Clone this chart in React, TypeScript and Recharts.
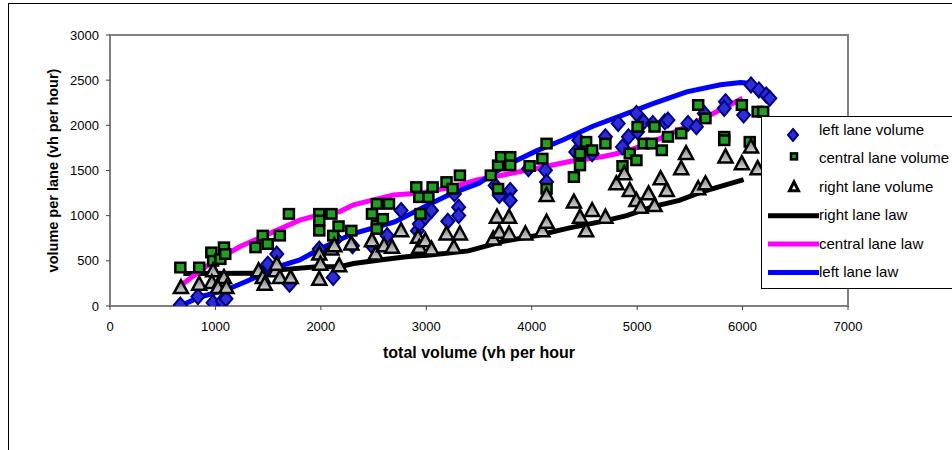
import React from 'react';
import { ScatterChart, Scatter, XAxis, YAxis, ReferenceArea, Legend } from 'recharts';

const FONT = '"Liberation Sans", Arial, sans-serif';

const xTicks = [0, 1000, 2000, 3000, 4000, 5000, 6000, 7000];
const yTicks = [0, 500, 1000, 1500, 2000, 2500, 3000];

// [total volume, lane volume]
const leftLaneVolume = [
  [667, 10], [834, 104], [978, 37], [1064, 56], [1100, 80], [1582, 575], [1438, 352], [1703, 241],
  [1496, 463], [1985, 630], [2117, 315], [2146, 742], [2300, 667], [2485, 667], [2629, 779],
  [2761, 1057], [2916, 834], [2934, 908], [2991, 983], [3049, 1057], [3204, 938], [3267, 1242],
  [3307, 1094], [3307, 1001], [3653, 1335], [3693, 1224], [3796, 1279], [3796, 1168], [3969, 1520],
  [4130, 1502], [4141, 1372], [4418, 1706], [4447, 1835], [4573, 1687], [4699, 1873], [4820, 2021],
  [4861, 1761], [4918, 1873], [4993, 2132], [5004, 1928], [5062, 2039], [5148, 2021], [5263, 2039],
  [5292, 2058], [5482, 2021], [5562, 1984], [5637, 2132], [5838, 2262], [5826, 2188], [6010, 2114],
  [6080, 2447], [6155, 2392], [6224, 2336], [6258, 2299],
];

const centralLaneVolume = [
  [667, 426], [846, 426], [961, 593], [978, 500], [1047, 519], [1081, 649], [1093, 575], [1380, 649],
  [1449, 779], [1496, 686], [1611, 779], [1697, 1020], [1985, 1020], [1985, 946], [1985, 834],
  [2100, 1020], [2117, 779], [2168, 883], [2289, 834], [2485, 1020], [2531, 1131], [2531, 890],
  [2588, 964], [2646, 1131], [2531, 853], [2905, 1316], [2934, 1205], [2945, 1020], [3020, 1205],
  [3060, 1316], [3192, 1372], [3250, 1298], [3319, 1446], [3612, 1446], [3681, 1557], [3710, 1650],
  [3681, 1298], [3796, 1650], [3796, 1557], [3980, 1550], [4101, 1631], [4141, 1798], [4141, 1298],
  [4400, 1428], [4458, 1687], [4458, 1557], [4516, 1817], [4573, 1724], [4699, 1798], [4861, 1550],
  [4930, 1687], [4993, 1613], [5004, 1984], [5062, 1798], [5137, 1798], [5165, 1984], [5234, 1724],
  [5292, 1873], [5418, 1910], [5579, 2225], [5648, 2077], [5826, 1873], [5826, 1835], [5993, 2225],
  [6068, 1817], [6143, 2151], [6195, 2151],
];

const rightLaneVolume = [
  [673, 204], [846, 241], [978, 389], [966, 260], [1047, 278], [1081, 315], [1024, 204], [1104, 204],
  [1409, 389], [1449, 315], [1467, 241], [1570, 389], [1611, 315], [1582, 463], [1714, 315],
  [1985, 297], [1985, 575], [1996, 463], [2100, 630], [2128, 667], [2174, 445], [2289, 686],
  [2485, 723], [2519, 575], [2600, 667], [2675, 649], [2761, 834], [2922, 760], [2934, 649],
  [2991, 723], [3049, 630], [3192, 797], [3261, 649], [3319, 797], [3670, 983], [3785, 983],
  [3635, 742], [3693, 816], [3785, 797], [3940, 797], [4101, 834], [4141, 927], [4141, 1224],
  [4400, 1150], [4458, 983], [4516, 834], [4573, 1057], [4699, 983], [4803, 1353], [4878, 1465],
  [4930, 1279], [4993, 1168], [5033, 1094], [5108, 1242], [5165, 1112], [5223, 1409], [5281, 1279],
  [5418, 1520], [5464, 1687], [5579, 1298], [5648, 1353], [5838, 1650], [5993, 1576], [6080, 1761],
  [6143, 1520],
];

const rightLaneLaw = [
  [696, 360], [1390, 362], [1610, 400], [1960, 435], [2180, 435], [2310, 470], [2560, 510],
  [2810, 545], [3035, 565], [3400, 610], [3730, 715], [4050, 780], [4360, 865], [4680, 940],
  [4900, 1000], [5150, 1100], [5400, 1170], [5630, 1270], [6010, 1400],
];

const centralLaneLaw = [
  [696, 250], [950, 470], [1230, 655], [1490, 790], [1800, 950], [1990, 1010], [2180, 1045],
  [2310, 1120], [2690, 1230], [2940, 1250], [3260, 1320], [3480, 1395], [3730, 1450], [4050, 1525],
  [4360, 1600], [4680, 1655], [4900, 1710], [5220, 1855], [5630, 2075], [6000, 2300],
];

const leftLaneLaw = [
  [664, 0], [854, 100], [1107, 180], [1330, 290], [1580, 430], [1800, 510], [1990, 630],
  [2300, 800], [2700, 930], [3035, 1130], [3250, 1250], [3500, 1360], [3730, 1540], [4050, 1720],
  [4300, 1840], [4580, 1990], [4900, 2130], [5150, 2240], [5470, 2370], [5790, 2450], [5980, 2475],
  [6040, 2470],
];

const toPoints = (arr: number[][]) => arr.map(([x, y]) => ({ x, y }));

const Diamond = (props: any) => {
  const { cx, cy } = props;
  if (cx == null || cy == null) return <g />;
  return (
    <polygon
      points={`${cx},${cy - 7.5} ${cx + 6.5},${cy} ${cx},${cy + 7.5} ${cx - 6.5},${cy}`}
      fill="#2d2dd8"
      stroke="#000084"
      strokeWidth={2}
    />
  );
};

const Square = (props: any) => {
  const { cx, cy } = props;
  if (cx == null || cy == null) return <g />;
  return <rect x={cx - 5} y={cy - 4.75} width={10} height={9.5} fill="#21a121" stroke="#000" strokeWidth={2.5} />;
};

const Triangle = (props: any) => {
  const { cx, cy } = props;
  if (cx == null || cy == null) return <g />;
  return (
    <polygon
      points={`${cx},${cy - 7.5} ${cx + 7},${cy + 5.5} ${cx - 7},${cy + 5.5}`}
      fill="url(#triFill)"
      stroke="#000"
      strokeWidth={2.5}
    />
  );
};

const NoDot = () => <g />;

const legendRows = [
  { label: 'left lane volume', kind: 'diamond' },
  { label: 'central lane volume', kind: 'square' },
  { label: 'right lane volume', kind: 'triangle' },
  { label: 'right lane law', kind: 'line', color: '#000000' },
  { label: 'central lane law', kind: 'line', color: '#ff00ff' },
  { label: 'left lane law', kind: 'line', color: '#0000ff' },
];

const LegendBox = () => (
  <svg width={200} height={174} style={{ display: 'block' }}>
    <rect x={0.5} y={0.5} width={199} height={172} fill="#fff" stroke="#000" strokeWidth={1} />
    {legendRows.map((row, i) => {
      const base = 19 + i * 28.4;
      return (
        <g key={row.label}>
          {row.kind === 'diamond' && (
            <polygon
              points={`32,${base - 6} 37,${base} 32,${base + 6} 27,${base}`}
              fill="#2d2dd8"
              stroke="#000084"
              strokeWidth={2}
            />
          )}
          {row.kind === 'square' && (
            <rect x={30} y={base - 10} width={6} height={6} fill="#21a121" stroke="#000" strokeWidth={2.5} />
          )}
          {row.kind === 'triangle' && (
            <polygon
              points={`33,${base - 10} 37.5,${base - 1} 28.5,${base - 1}`}
              fill="#fff"
              stroke="#000"
              strokeWidth={3}
            />
          )}
          {row.kind === 'line' && (
            <line x1={7} y1={base - 4.5} x2={58} y2={base - 4.5} stroke={row.color} strokeWidth={5} />
          )}
          <text x={58} y={base} fontFamily={FONT} fontSize={15} fill="#000">
            {row.label}
          </text>
        </g>
      );
    })}
  </svg>
);

export default function App() {
  return (
    <div style={{ position: 'absolute', left: 0, top: 0, width: 952, height: 450, overflow: 'hidden', background: '#fff' }}>
      <div
        style={{
          position: 'absolute',
          left: 8,
          top: 3,
          width: 1000,
          height: 500,
          borderTop: '1px solid #000',
          borderLeft: '1px solid #000',
        }}
      />
      <ScatterChart
        width={952}
        height={450}
        margin={{ top: 35, right: 104, bottom: 0, left: 0 }}
        style={{ position: 'absolute', left: 0, top: 0 }}
      >
        <defs>
          <linearGradient id="triFill" x1="0" y1="0" x2="0" y2="1">
            <stop offset="0%" stopColor="#777777" />
            <stop offset="100%" stopColor="#d4d4d4" />
          </linearGradient>
        </defs>
        <XAxis
          type="number"
          dataKey="x"
          domain={[0, 7000]}
          ticks={xTicks}
          height={144}
          stroke="#808080"
          strokeWidth={2}
          tickSize={4}
          tickMargin={12}
          tickLine={{ stroke: '#404040', strokeWidth: 1 }}
          tick={{ fontSize: 13, fill: '#000', fontFamily: FONT }}
          allowDataOverflow
          label={{
            value: 'total volume (vh per hour',
            position: 'insideTop',
            offset: 41,
            style: { fontSize: 16, fontWeight: 'bold', fill: '#000', fontFamily: FONT },
          }}
        />
        <YAxis
          type="number"
          dataKey="y"
          domain={[0, 3000]}
          ticks={yTicks}
          width={110}
          stroke="#808080"
          strokeWidth={2}
          tickSize={4}
          tickMargin={7}
          tickLine={{ stroke: '#404040', strokeWidth: 1 }}
          tick={{ fontSize: 13, fill: '#000', fontFamily: FONT }}
          allowDataOverflow
          label={{
            value: 'volume per lane (vh per hour)',
            angle: -90,
            position: 'center',
            dx: -2,
            style: { fontSize: 14.5, fontWeight: 'bold', fill: '#000', fontFamily: FONT, textAnchor: 'middle' },
          }}
        />
        <ReferenceArea x1={0} x2={7000} y1={0} y2={3000} fill="none" stroke="#808080" strokeWidth={2} ifOverflow="visible" />
        <Scatter
          name="right lane law"
          data={toPoints(rightLaneLaw)}
          line={{ stroke: '#000000', strokeWidth: 5 }}
          lineType="joint"
          shape={NoDot}
          legendType="none"
          isAnimationActive={false}
        />
        <Scatter
          name="central lane law"
          data={toPoints(centralLaneLaw)}
          line={{ stroke: '#ff00ff', strokeWidth: 5 }}
          lineType="joint"
          shape={NoDot}
          legendType="none"
          isAnimationActive={false}
        />
        <Scatter
          name="left lane law"
          data={toPoints(leftLaneLaw)}
          line={{ stroke: '#0000ff', strokeWidth: 5 }}
          lineType="joint"
          shape={NoDot}
          legendType="none"
          isAnimationActive={false}
        />
        <Scatter name="left lane volume" data={toPoints(leftLaneVolume)} shape={Diamond} isAnimationActive={false} />
        <Scatter name="central lane volume" data={toPoints(centralLaneVolume)} shape={Square} isAnimationActive={false} />
        <Scatter name="right lane volume" data={toPoints(rightLaneVolume)} shape={Triangle} isAnimationActive={false} />
        <Legend
          layout="vertical"
          align="center"
          verticalAlign="middle"
          content={() => <LegendBox />}
          wrapperStyle={{ left: 761, top: 116, width: 200, height: 174 }}
        />
      </ScatterChart>
    </div>
  );
}
